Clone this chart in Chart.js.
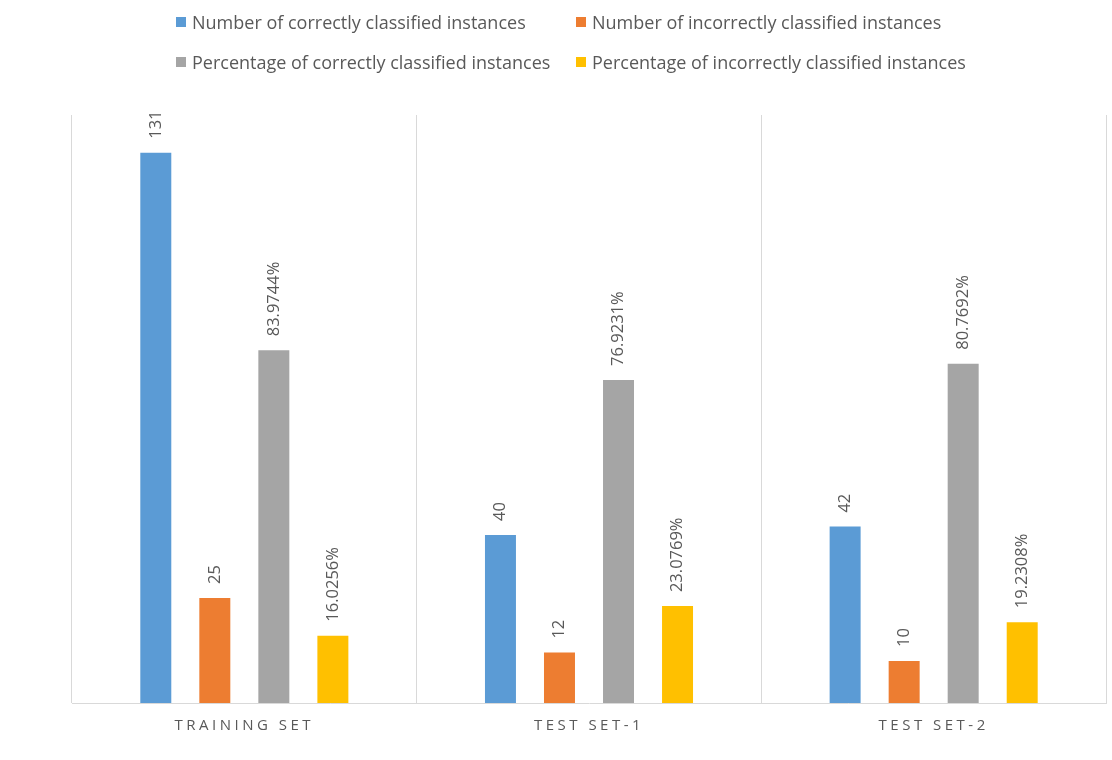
<!DOCTYPE html>
<html>
<head>
<meta charset="utf-8">
<script src="https://cdn.jsdelivr.net/npm/chart.js@4"></script>
<style>
  html, body { margin: 0; padding: 0; background: #fff; }
  #wrap { position: relative; width: 1112px; height: 760px; font-family: "Open Sans", sans-serif; }
  #chart { position: absolute; left: 0; top: 0; }
  #legend {
    position: absolute; left: 176px; top: 2px;
    display: grid; grid-template-columns: 400px auto; grid-auto-rows: 40px;
    font-size: 18px; color: #595959;
  }
  .item { display: flex; align-items: center; white-space: nowrap; }
  .box { width: 10px; height: 10px; margin-right: 6px; flex: none; }
</style>
</head>
<body>
<div id="wrap">
  <canvas id="chart" width="1112" height="760"></canvas>
  <div id="legend"></div>
</div>
<script>
const categories = ["TRAINING SET", "TEST SET-1", "TEST SET-2"];

const seriesNames = [
    "Number of correctly classified instances",
    "Number of incorrectly classified instances",
    "Percentage of correctly classified instances",
    "Percentage of incorrectly classified instances",
];
const seriesColors = ["#5b9bd5", "#ed7d31", "#a5a5a5", "#ffc000"];

const correctCount = [131, 40, 42];
const incorrectCount = [25, 12, 10];
const correctPct = [83.9744, 76.9231, 80.7692];
const incorrectPct = [16.0256, 23.0769, 19.2308];

const seriesValues = [correctCount, incorrectCount, correctPct, incorrectPct];
const isPercent = [false, false, true, true];

const datasets = seriesValues.map((vals, i) => ({
    label: seriesNames[i],
    data: vals,
    backgroundColor: seriesColors[i],
    borderWidth: 0,
    categoryPercentage: 0.685,
    barPercentage: 0.525,
}));

// legend laid out as a 2x2 grid
const legendEl = document.getElementById("legend");
seriesNames.forEach((name, i) => {
    const item = document.createElement("div");
    item.className = "item";
    item.innerHTML = '<span class="box" style="background:' + seriesColors[i] + '"></span>' + name;
    legendEl.appendChild(item);
});

// spaced-out caps for the category axis
const axisSpacing = {
    id: "axisSpacing",
    beforeDraw(chart) { chart.ctx.letterSpacing = "3.5px"; },
    beforeDatasetsDraw(chart) { chart.ctx.letterSpacing = "0px"; },
};

// rotated value labels above each bar
const barLabels = {
    id: "barLabels",
    afterDatasetsDraw(chart) {
        const ctx = chart.ctx;
        ctx.save();
        ctx.font = '16.5px "Open Sans", sans-serif';
        ctx.fillStyle = "#595959";
        ctx.textAlign = "left";
        ctx.textBaseline = "middle";
        chart.data.datasets.forEach((ds, di) => {
            const meta = chart.getDatasetMeta(di);
            meta.data.forEach((bar, j) => {
                const v = ds.data[j];
                const txt = isPercent[di] ? v.toFixed(4) + "%" : String(v);
                ctx.save();
                ctx.translate(bar.x, bar.y - 14);
                ctx.rotate(-Math.PI / 2);
                ctx.fillText(txt, 0, 0);
                ctx.restore();
            });
        });
        ctx.restore();
    }
};

new Chart(document.getElementById("chart"), {
    type: "bar",
    data: { labels: categories, datasets: datasets },
    options: {
        responsive: false,
        animation: false,
        layout: { padding: { left: 72, right: 6, top: 115, bottom: 0 } },
        plugins: {
            legend: { display: false },
            tooltip: { enabled: false },
        },
        scales: {
            x: {
                grid: { color: "#d9d9d9", lineWidth: 1, drawTicks: false, offset: true },
                border: { color: "#d9d9d9" },
                ticks: {
                    color: "#595959",
                    padding: 14,
                    font: { family: "Open Sans", size: 15 },
                },
                afterFit(scale) { scale.height = 57; },
            },
            y: {
                display: false,
                min: 0,
                max: 140,
            },
        },
    },
    plugins: [axisSpacing, barLabels],
});
</script>
</body>
</html>
